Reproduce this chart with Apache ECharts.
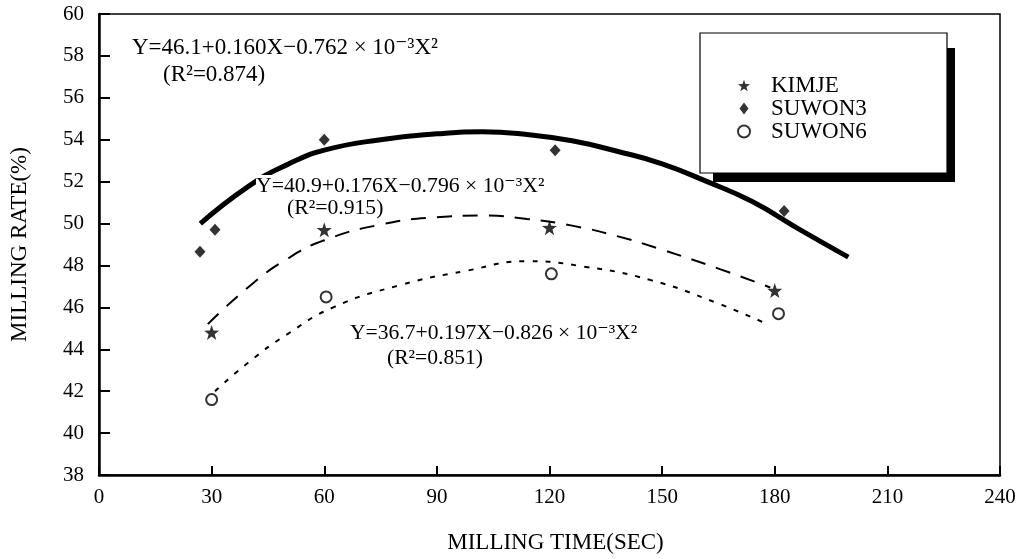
<!DOCTYPE html>
<html>
<head>
<meta charset="utf-8">
<script src="https://cdn.jsdelivr.net/npm/echarts@6/dist/echarts.min.js"></script>
<style>
  html, body { margin: 0; padding: 0; background: #fff; }
  #chart { width: 1029px; height: 559px; }
</style>
</head>
<body>
<div id="chart"></div>
<script>
const kimjeX = [30, 60, 120, 180]
const kimjeY = [44.8, 49.7, 49.8, 46.8]
const suwon3X = [26.9, 30.9, 60, 121.5, 182.5]
const suwon3Y = [48.65, 49.7, 54.0, 53.5, 50.6]
const suwon6X = [30, 60.5, 120.5, 181]
const suwon6Y = [41.6, 46.5, 47.6, 45.7]

// fitted curves
const fit3X = [27, 40, 50, 60, 75, 90, 102, 114, 126, 138, 150, 162, 174, 186.8, 199.6]
const fit3Y = [50.0, 51.8, 52.8, 53.5, 54.0, 54.28, 54.38, 54.25, 53.95, 53.45, 52.85, 52.0, 51.05, 49.7, 48.4]
const fitKX = [29, 40, 50, 60, 75, 90, 102, 114, 126, 138, 150, 165, 178.8]
const fitKY = [45.2, 47.0, 48.3, 49.2, 49.95, 50.3, 50.38, 50.22, 49.9, 49.4, 48.75, 47.85, 46.95]
const fit6X = [30.9, 40, 50, 62.4, 80, 98, 114, 129, 147, 164.7, 178]
const fit6Y = [42.0, 43.4, 44.7, 46.0, 47.05, 47.75, 48.2, 47.95, 47.3, 46.2, 45.2]

const xTicks = [0, 30, 60, 90, 120, 150, 180, 210, 240]
const yTicks = [38, 40, 42, 44, 46, 48, 50, 52, 54, 56, 58, 60]

const serif = "'Liberation Serif', 'DejaVu Serif', serif"
const star = 'path://M0,-10L2.35,-3.24L9.51,-3.09L3.8,1.24L5.88,8.09L0,4L-5.88,8.09L-3.8,1.24L-9.51,-3.09L-2.35,-3.24Z'
const diamond = 'path://M0,-10L7.5,0L0,10L-7.5,0Z'

function pairs (xs, ys) {
  return xs.map((x, i) => [x, ys[i]])
}

const chart = echarts.init(document.getElementById('chart'))

function eq (x, y, text, size) {
  return {
    type: 'text',
    z: 10,
    x: x,
    y: y,
    style: {
      text: text,
      font: size + 'px ' + serif,
      fill: '#000',
      verticalAlign: 'middle',
      backgroundColor: '#fff'
    }
  }
}

function curve (xs, ys, width, dash) {
  return {
    type: 'line',
    smooth: true,
    showSymbol: false,
    silent: true,
    data: pairs(xs, ys),
    lineStyle: { color: '#000', width: width, type: dash }
  }
}

chart.setOption({
  animation: false,
  backgroundColor: '#fff',
  grid: {
    left: 99,
    right: 29,
    top: 14,
    bottom: 79,
    show: true,
    borderColor: '#000',
    borderWidth: 1.5
  },
  xAxis: {
    type: 'value',
    min: xTicks[0],
    max: xTicks[xTicks.length - 1],
    interval: 30,
    name: 'MILLING TIME(SEC)',
    nameLocation: 'middle',
    nameGap: 56,
    nameTextStyle: { fontFamily: serif, fontSize: 23, color: '#000', padding: [0, 0, 0, 12] },
    axisLine: { lineStyle: { color: '#000', width: 2.5 } },
    axisTick: { inside: true, length: 9, lineStyle: { color: '#000', width: 2 } },
    axisLabel: { fontFamily: serif, fontSize: 21, color: '#000', margin: 12 },
    splitLine: { show: false }
  },
  yAxis: {
    type: 'value',
    min: yTicks[0],
    max: yTicks[yTicks.length - 1],
    interval: 2,
    name: 'MILLING RATE(%)',
    nameLocation: 'middle',
    nameGap: 68,
    nameTextStyle: { fontFamily: serif, fontSize: 23, color: '#000' },
    axisLine: { lineStyle: { color: '#000', width: 2.5 } },
    axisTick: { inside: true, length: 11, lineStyle: { color: '#000', width: 2 } },
    axisLabel: { fontFamily: serif, fontSize: 21, color: '#000', margin: 15 },
    splitLine: { show: false }
  },
  legend: {
    orient: 'vertical',
    align: 'left',
    left: 737,
    top: 74,
    padding: 0,
    itemGap: 0,
    itemWidth: 12,
    itemHeight: 12,
    textStyle: { fontFamily: serif, fontSize: 23, color: '#000', lineHeight: 22.5, padding: [0, 0, 0, 16] },
    data: [
      { name: 'KIMJE', icon: star },
      { name: 'SUWON3', icon: diamond },
      { name: 'SUWON6', icon: 'emptyCircle' }
    ]
  },
  graphic: [
    { type: 'rect', z: 1, shape: { x: 713, y: 48, width: 242, height: 134 }, style: { fill: '#000' } },
    { type: 'rect', z: 1, shape: { x: 700, y: 33, width: 247, height: 140 }, style: { fill: '#fff', stroke: '#000', lineWidth: 1.2 } },
    eq(132, 48, 'Y=46.1+0.160X−0.762 × 10⁻³X²', 23),
    eq(163, 75, '(R²=0.874)', 23),
    eq(256, 186, 'Y=40.9+0.176X−0.796 × 10⁻³X²', 21.7),
    eq(287, 208, '(R²=0.915)', 21.7),
    eq(350, 333, 'Y=36.7+0.197X−0.826 × 10⁻³X²', 21.6),
    eq(387, 358, '(R²=0.851)', 21.6)
  ],
  series: [
    curve(fit3X, fit3Y, 5, 'solid'),
    curve(fitKX, fitKY, 2, [15, 11]),
    curve(fit6X, fit6Y, 2, [5, 8]),
    {
      name: 'KIMJE',
      type: 'scatter',
      symbol: star,
      symbolSize: 15,
      z: 5,
      itemStyle: { color: '#000' },
      data: pairs(kimjeX, kimjeY)
    },
    {
      name: 'SUWON3',
      type: 'scatter',
      symbol: diamond,
      symbolSize: [11, 12],
      z: 5,
      itemStyle: { color: '#000' },
      data: pairs(suwon3X, suwon3Y)
    },
    {
      name: 'SUWON6',
      type: 'scatter',
      symbol: 'emptyCircle',
      symbolSize: 11,
      z: 5,
      itemStyle: { color: '#000', borderWidth: 1.6 },
      data: pairs(suwon6X, suwon6Y)
    }
  ]
})
</script>
</body>
</html>
